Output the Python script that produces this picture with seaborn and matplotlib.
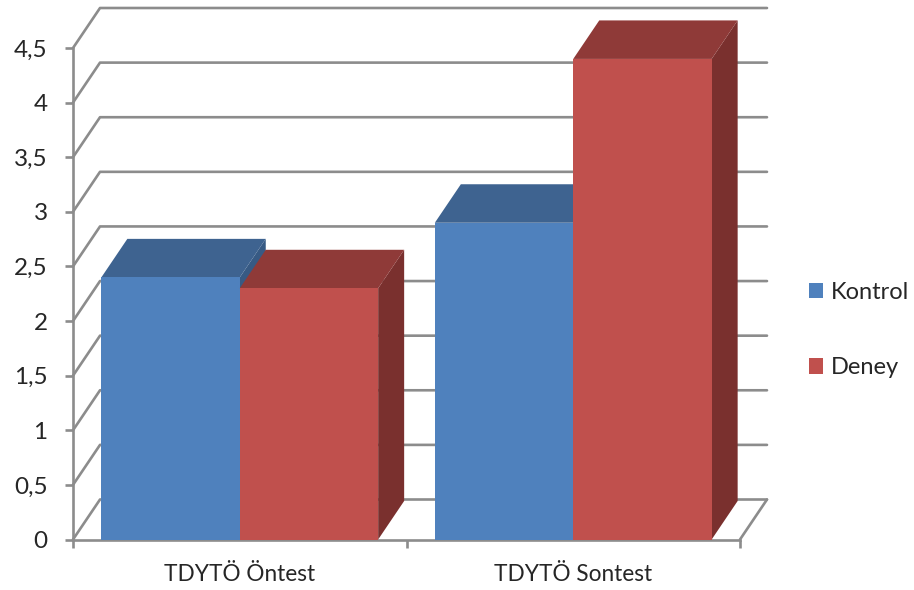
import matplotlib
matplotlib.use("Agg")
import matplotlib.pyplot as plt
from matplotlib.patches import Polygon
import pandas as pd
import seaborn as sns

# Mean scores per test and group
tests = ["TDYTÖ Öntest", "TDYTÖ Sontest"]
kontrol = [2.4, 2.9]
deney = [2.3, 4.4]
groups = ["Kontrol", "Deney"]
y_levels = [0, 0.5, 1, 1.5, 2, 2.5, 3, 3.5, 4, 4.5]
y_labels = ["0", "0,5", "1", "1,5", "2", "2,5", "3", "3,5", "4", "4,5"]

front = {"Kontrol": "#4F81BD", "Deney": "#C0504D"}
top = {"Kontrol": "#3E6390", "Deney": "#8F3A38"}
side = {"Kontrol": "#375A84", "Deney": "#7A302E"}
GRID = "#8C8C8C"
TEXT = "#262626"
LW = 1.9

sns.set_theme(style="white")
plt.rcParams["font.family"] = ["Lato", "DejaVu Sans"]

W, H = 914, 590
fig = plt.figure(figsize=(W / 100, H / 100), dpi=100)
ax = fig.add_axes([73 / W, 1 - 539.5 / H, 667 / W, 491.5 / H])

df = pd.DataFrame({
    "test": tests * 2,
    "group": [groups[0]] * 2 + [groups[1]] * 2,
    "value": kontrol + deney,
})
sns.barplot(data=df, x="test", y="value", hue="group", hue_order=groups,
            palette=front, width=0.83, gap=0, linewidth=0, saturation=1, ax=ax)

ax.set_xlim(-0.5, 1.5)
ax.set_ylim(0, 4.5)

# Oblique depth of the walls and of the bars, in data units
px_x = 2 / 667
px_y = 4.5 / 491.5
wall_dx, wall_dy = 27 * px_x, 40 * px_y
bar_dx, bar_dy = 26 * px_x, 38.5 * px_y

# Back wall, left wall and floor edge
for lev in y_levels:
    ax.plot([-0.5, -0.5 + wall_dx, 1.5 + wall_dx], [lev, lev + wall_dy, lev + wall_dy],
            color=GRID, lw=LW, clip_on=False, zorder=1, solid_joinstyle="round")
ax.plot([1.5, 1.5 + wall_dx], [0, wall_dy], color=GRID, lw=LW, clip_on=False, zorder=1)

# Extrude each bar: top and side faces sit just under its front face
bars = []
for name, cont in zip(groups, ax.containers):
    bars += [(b.get_x(), name, b) for b in cont]
bars.sort(key=lambda item: item[0])
z = 3
for _, name, b in bars:
    x0, x1, h = b.get_x(), b.get_x() + b.get_width(), b.get_height()
    ax.add_patch(Polygon([(x1, 0), (x1 + bar_dx, bar_dy), (x1 + bar_dx, h + bar_dy), (x1, h)],
                         facecolor=side[name], lw=0, clip_on=False, zorder=z))
    ax.add_patch(Polygon([(x0, h), (x0 + bar_dx, h + bar_dy), (x1 + bar_dx, h + bar_dy), (x1, h)],
                         facecolor=top[name], lw=0, clip_on=False, zorder=z + 0.1))
    b.set_zorder(z + 0.2)
    z += 1

# Axes
sns.despine(ax=ax, top=True, right=True)
for s in ("left", "bottom"):
    ax.spines[s].set_color(GRID)
    ax.spines[s].set_linewidth(LW)
    ax.spines[s].set_zorder(2)
ax.set_xlabel("")
ax.set_ylabel("")
ax.set_yticks(y_levels, y_labels)
ax.set_xticks([-0.5, 0.5, 1.5], ["", "", ""])
ax.set_xticks([0, 1], tests, minor=True)
ax.tick_params(axis="y", left=True, length=5.8, width=LW, color=GRID, pad=12.5,
               labelsize=17.5, labelcolor=TEXT)
ax.tick_params(axis="x", which="major", bottom=True, length=5.8, width=LW, color=GRID)
ax.tick_params(axis="x", which="minor", bottom=False, length=0, pad=17.5,
               labelsize=16.3, labelcolor=TEXT)

# Legend to the right of the plot
handles, labels = ax.get_legend_handles_labels()
ax.get_legend().remove()
fig.legend(handles, labels, loc="center left", bbox_to_anchor=(801.5 / W, 1 - 330 / H),
           frameon=False, fontsize=17, labelcolor=TEXT, handlelength=0.62,
           handleheight=0.62, handletextpad=0.32, labelspacing=2.32,
           borderpad=0.3, borderaxespad=0)

fig.savefig("out.png", dpi=100, facecolor="white")
